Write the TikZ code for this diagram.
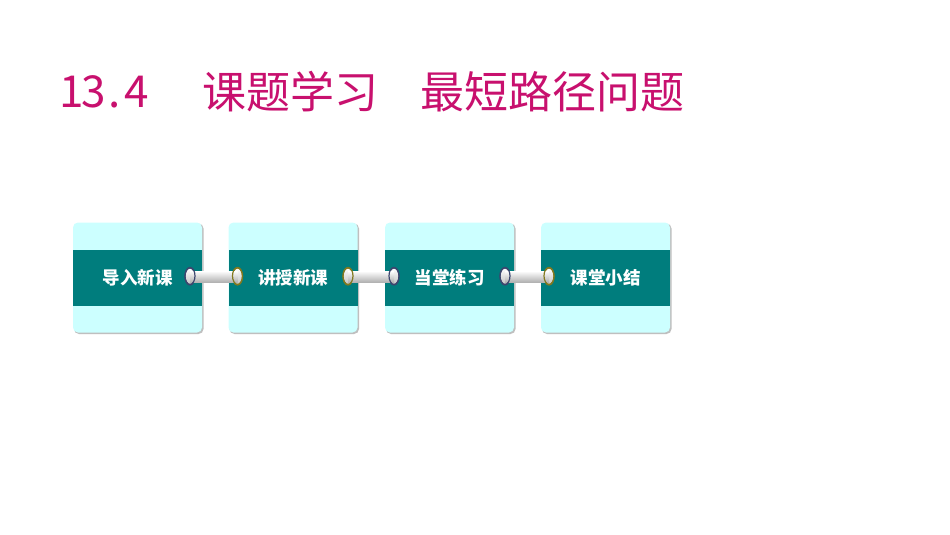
\documentclass[tikz,border=0pt]{standalone}
\usepackage{fontspec}
\newfontfamily\cjk{Noto Sans CJK SC}
\usetikzlibrary{shapes.geometric}
\definecolor{titlepink}{RGB}{200,16,110}
\definecolor{boxcyan}{RGB}{204,255,255}
\definecolor{bandteal}{RGB}{0,125,125}
\definecolor{ringblue}{RGB}{60,70,110}
\definecolor{ringgold}{RGB}{130,120,30}
\tikzset{
  card/.style={fill=boxcyan, rounded corners=5pt, minimum width=129pt, minimum height=110pt, inner sep=0pt},
  cardshadow/.style={fill=black!25, rounded corners=5pt},
  band/.style={fill=bandteal, minimum width=129pt, minimum height=56pt, inner sep=0pt,
    text=white, font=\cjk\bfseries\fontsize{17.5pt}{19pt}\selectfont},
  eyelet/.style={ellipse, minimum width=10pt, minimum height=17pt, inner sep=0pt,
    line width=1.2pt, top color=white, bottom color=black!25},
  bar/.style={top color=white, bottom color=black!30, draw=none},
  ttl/.style={text=titlepink, font=\cjk\fontsize{44pt}{46pt}\selectfont, inner sep=0pt, anchor=west}
}
\begin{document}
\begin{tikzpicture}[x=1pt,y=-1pt]
\useasboundingbox[fill=white] (0,0) rectangle (950,535);
% title
\node[ttl] (t1) at (61,92) {\makebox[21.5pt]{1}\makebox[21.5pt]{3}\makebox[21.5pt]{.}\makebox[21.5pt]{4}};
\node[ttl] (t2) at (202,92) {课题学习};
\node[ttl] (t3) at (420,92) {最短路径问题};
% cards
\foreach \i/\x/\lab in {1/137.5/导入新课, 2/293/讲授新课, 3/449.5/当堂练习, 4/605.5/课堂小结}{
  \fill[cardshadow] (\x-63.5,223.5) rectangle (\x+66,334);
  \node[card] (c\i) at (\x,277.5) {};
  \node[band] (b\i) at (\x,277.5) {\raisebox{-1pt}{\lab}};
}
% eyelets
\node[eyelet, draw=ringblue] (e1r) at (190,276.5) {};
\node[eyelet, draw=ringgold] (e2l) at (237.5,276.5) {};
\node[eyelet, draw=ringgold] (e2r) at (348,276.5) {};
\node[eyelet, draw=ringblue] (e3l) at (394,276.5) {};
\node[eyelet, draw=ringblue] (e3r) at (505,276.5) {};
\node[eyelet, draw=ringgold] (e4l) at (549,276.5) {};
% bars
\foreach \a/\b in {e1r/e2l, e2r/e3l, e3r/e4l}{
  \shade[bar] ([yshift=-5.5pt]\a.center) rectangle ([yshift=5.5pt]\b.center);
}
% redraw rings on top of bars
\foreach \n/\c in {e1r/ringblue, e2l/ringgold, e2r/ringgold, e3l/ringblue, e3r/ringblue, e4l/ringgold}{
  \draw[\c, line width=1.2pt] (\n.north) arc[start angle=90, end angle=-270, x radius=5pt, y radius=8.5pt];
}
\end{tikzpicture}
\end{document}
